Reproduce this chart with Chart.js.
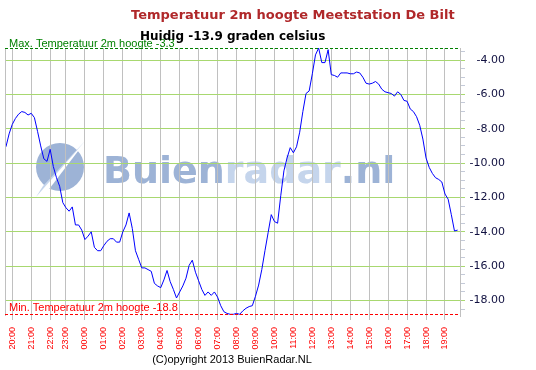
<!DOCTYPE html>
<html><head><meta charset="utf-8">
<script src="https://cdn.jsdelivr.net/npm/chart.js@4/dist/chart.umd.min.js"></script>
<style>html,body{margin:0;padding:0;background:#fff}</style>
</head><body>
<canvas id="c" width="536" height="370"></canvas>
<script>
// ---- data ----
const times = [
"19:40","19:50",
"20:00","20:10","20:20","20:30","20:40","20:50",
"21:00","21:10","21:20","21:30","21:40","21:50",
"22:00","22:10","22:20","22:40","22:50",
"23:00","23:10","23:20","23:30","23:40","23:50",
"00:00","00:10","00:20","00:30","00:40","00:50",
"01:00","01:10","01:20","01:30","01:40","01:50",
"02:00","02:10","02:20","02:30","02:40","02:50",
"03:00","03:10","03:20","03:30","03:40","03:50",
"04:00","04:10","04:20","04:30","04:40","04:50",
"05:00","05:10","05:20","05:30","05:40","05:50",
"06:00","06:10","06:20","06:30","06:40","06:50",
"07:00","07:10","07:20","07:30","07:40","07:50",
"08:00","08:10","08:20","08:30","08:40","08:50",
"09:00","09:10","09:20","09:30","09:40","09:50",
"10:00","10:10","10:20","10:30","10:40","10:50",
"11:00","11:10","11:20","11:30","11:40","11:50",
"12:00","12:10","12:20","12:30","12:40","12:50",
"13:00","13:10","13:20","13:30","13:40","13:50",
"14:00","14:10","14:20","14:30","14:40","14:50",
"15:00","15:10","15:20","15:30","15:40","15:50",
"16:00","16:10","16:20","16:30","16:40","16:50",
"17:00","17:10","17:20","17:30","17:40","17:50",
"18:00","18:10","18:20","18:30","18:40","18:50",
"19:00","19:10","19:20","19:30","19:40"
];
const temps = [
-9.05,-8.3,-7.75,-7.4,-7.15,-7.0,-7.05,-7.2,-7.1,-7.35,
-8.15,-9.0,-9.75,-9.9,-9.2,-10.2,-10.85,-11.35,-12.3,-12.6,
-12.8,-12.55,-13.6,-13.6,-13.9,-14.45,-14.25,-14.0,-14.9,-15.1,
-15.1,-14.8,-14.55,-14.4,-14.4,-14.6,-14.6,-14.0,-13.6,-12.9,
-13.8,-15.1,-15.6,-16.1,-16.1,-16.2,-16.3,-17.0,-17.15,-17.25,
-16.8,-16.25,-16.9,-17.35,-17.85,-17.5,-17.15,-16.7,-15.95,-15.65,
-16.35,-16.85,-17.35,-17.7,-17.5,-17.7,-17.5,-17.8,-18.3,-18.65,
-18.75,-18.8,-18.8,-18.75,-18.8,-18.6,-18.45,-18.35,-18.3,-17.75,
-17.1,-16.2,-15.1,-14.05,-13.0,-13.4,-13.5,-11.9,-10.45,-9.7,
-9.1,-9.4,-9.05,-8.2,-7.0,-5.95,-5.8,-4.8,-3.7,-3.3,
-4.15,-4.15,-3.4,-4.85,-4.9,-5.0,-4.75,-4.75,-4.75,-4.8,
-4.8,-4.7,-4.75,-5.0,-5.35,-5.4,-5.35,-5.25,-5.4,-5.7,
-5.85,-5.9,-5.95,-6.1,-5.85,-6.0,-6.35,-6.4,-6.85,-7.0,
-7.3,-7.8,-8.6,-9.7,-10.25,-10.6,-10.85,-10.95,-11.1,-11.8,
-12.1,-13.0,-13.95,-13.9
];
const maxTemp = -3.3;
const minTemp = -18.8;
const currentTemp = -13.9;
const titleText = "Temperatuur 2m hoogte Meetstation De Bilt";
const subtitleText = "Huidig " + currentTemp + " graden celsius";
const maxText = "Max. Temperatuur 2m hoogte " + maxTemp;
const minText = "Min. Temperatuur 2m hoogte " + minTemp;
const copyrightText = "(C)opyright 2013 BuienRadar.NL";
const watermarkParts = ["Buien", "radar", ".nl"];

// ---- plugins ----
const bgPlugin = {
  id: 'bg',
  beforeDraw(chart) {
    const c = chart.ctx;
    c.save();
    c.fillStyle = '#ffffff';
    c.fillRect(0, 0, chart.width, chart.height);
    // watermark logo
    c.fillStyle = '#9db3d6';
    c.beginPath(); c.arc(60, 167, 24, 0, Math.PI * 2); c.fill();
    c.fillStyle = '#ffffff';
    c.beginPath(); c.moveTo(37, 194); c.lineTo(88, 138); c.lineTo(50, 188); c.closePath(); c.fill();
    c.fillStyle = '#c5d5ec';
    c.beginPath(); c.moveTo(36, 197); c.lineTo(86, 140); c.lineTo(43, 186); c.closePath(); c.fill();
    // watermark text
    c.font = 'bold 38px "DejaVu Sans"';
    c.textBaseline = 'alphabetic';
    c.textAlign = 'left';
    let x = 103;
    const cols = ['#9db3d6', '#c5d5ec', '#9db3d6'];
    watermarkParts.forEach((p, i) => {
      c.fillStyle = cols[i];
      c.fillText(p, x, 183);
      x += c.measureText(p).width;
    });
    c.restore();
  },
  afterDraw(chart) {
    const c = chart.ctx;
    const a = chart.chartArea;
    const ys = chart.scales.y;
    c.save();
    // left border
    c.strokeStyle = '#c0c0c0';
    c.lineWidth = 1;
    c.beginPath(); c.moveTo(a.left + 0.5, a.top); c.lineTo(a.left + 0.5, a.bottom); c.stroke();
    // max / min dashed lines
    const yMax = Math.round(ys.getPixelForValue(maxTemp)) + 0.5;
    const yMin = Math.round(ys.getPixelForValue(minTemp)) + 0.5;
    c.setLineDash([3, 2]);
    c.strokeStyle = '#008000';
    c.beginPath(); c.moveTo(a.left, yMax); c.lineTo(a.right, yMax); c.stroke();
    c.strokeStyle = '#ff0000';
    c.beginPath(); c.moveTo(a.left, yMin); c.lineTo(a.right, yMin); c.stroke();
    c.setLineDash([]);
    c.textBaseline = 'middle';
    c.textAlign = 'left';
    c.font = '11px "Liberation Sans"';
    c.fillStyle = '#008000';
    c.fillText(maxText, 9, yMax - 5);
    c.fillStyle = '#ff0000';
    c.fillText(minText, 9, yMin - 7);
    // titles
    c.font = 'bold 13px "DejaVu Sans"';
    c.fillStyle = '#b0282a';
    c.fillText(titleText, 131, 16);
    c.font = 'bold 12px "DejaVu Sans"';
    c.fillStyle = '#000000';
    c.fillText(subtitleText, 140, 37);
    // copyright
    c.font = '11px "Liberation Sans"';
    c.fillStyle = '#000000';
    c.textAlign = 'center';
    c.fillText(copyrightText, 232, 360);
    c.restore();
  }
};

new Chart(document.getElementById('c'), {
  type: 'line',
  data: {
    datasets: [{
      data: temps.map((v, i) => ({ x: i, y: v })),
      borderColor: '#0000ff',
      borderWidth: 1,
      pointRadius: 0,
      tension: 0,
      fill: false
    }]
  },
  options: {
    responsive: false,
    animation: false,
    devicePixelRatio: 1,
    layout: { padding: { left: 5, top: 48, right: 31, bottom: 18 } },
    plugins: { legend: { display: false }, tooltip: { enabled: false }, title: { display: false } },
    scales: {
      x: {
        type: 'linear',
        min: -0.3,
        max: 143.75,
        afterBuildTicks: ax => {
          ax.ticks = times.map((t, i) => t.endsWith(':00') ? { value: i } : null).filter(Boolean);
        },
        afterFit: ax => { ax.height = 36; },
        grid: { color: '#c0c0c0', tickLength: 4 },
        border: { display: false },
        ticks: {
          autoSkip: false, minRotation: 90, maxRotation: 90, padding: 7,
          color: '#ff0000', font: { family: 'Liberation Sans', size: 9 },
          callback: v => times[v]
        }
      },
      y: {
        position: 'right',
        min: -18.9,
        max: -3.3,
        afterBuildTicks: ax => {
          const t = [];
          for (let k = -37; k <= -7; k++) t.push({ value: k / 2 });
          ax.ticks = t;
        },
        afterFit: ax => { ax.width = 45; },
        grid: {
          color: c => (c.tick && Math.abs(c.tick.value % 2) < 1e-9) ? '#a8d870' : 'rgba(0,0,0,0)',
          tickColor: c => (c.tick && Math.abs(c.tick.value % 2) < 1e-9) ? '#a8d870' : '#c4cad8',
          tickLength: 5
        },
        border: { display: true, color: '#c0c0c0' },
        ticks: {
          autoSkip: false,
          crossAlign: 'far',
          color: '#101040',
          font: { family: 'DejaVu Sans', size: 11 },
          callback: v => (Math.abs(v % 2) < 1e-9) ? v.toFixed(2) : ''
        }
      }
    }
  },
  plugins: [bgPlugin]
});
</script>
</body></html>
